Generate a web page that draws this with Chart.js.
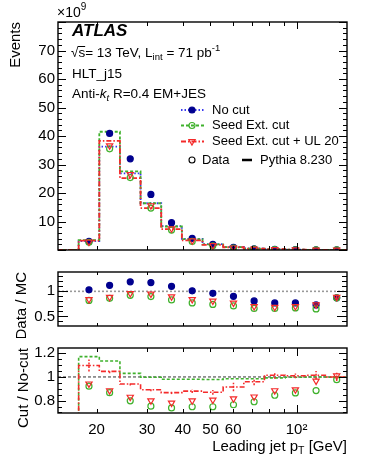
<!DOCTYPE html>
<html>
<head>
<meta charset="utf-8">
<script src="https://cdn.jsdelivr.net/npm/chart.js@4.4.1/dist/chart.umd.min.js"></script>
<style>
  html, body { margin: 0; padding: 0; background: #fff; }
  body { width: 366px; height: 474px; position: relative; overflow: hidden; }
  canvas { position: absolute; left: 0; }
</style>
</head>
<body>
<canvas id="mainPad" width="366" height="262" style="top:0px"></canvas>
<canvas id="ratioPad" width="366" height="78" style="top:260px"></canvas>
<canvas id="cutPad" width="366" height="138" style="top:336px"></canvas>
<script>
// leading jet pT bin edges [GeV]
const binEdges = [14.66, 17.31, 20.44, 24.13, 28.49, 33.64, 39.72, 46.90, 55.37, 65.38, 77.19, 91.14, 107.6, 127.1, 150];

// events per bin (x1e9), Pythia histograms
const mcNoCut  = [0, 3.1, 36.3, 26.9, 16.4, 8.4, 3.9, 2.05, 1.05, 0.52, 0.26, 0.13, 0.065, 0.032];
const mcSeed   = [0, 3.5, 41.5, 27.6, 16.4, 8.25, 3.8, 2.0, 1.03, 0.51, 0.26, 0.13, 0.065, 0.032];
const mcSeedUL = [0, 3.3, 38.3, 25.2, 14.7, 7.3, 3.4, 1.78, 0.96, 0.5, 0.26, 0.13, 0.066, 0.032];

// events per bin (x1e9), data
const dataNoCut  = [null, 3.0, 40.9, 32.0, 19.5, 9.6, 4.1, 2.0, 0.95, 0.42, 0.2, 0.1, 0.048, 0.028];
const dataSeed   = [null, 2.7, 35.5, 25.4, 14.7, 7.0, 3.0, 1.45, 0.7, 0.33, 0.17, 0.085, 0.042, 0.026];
const dataSeedUL = [null, 2.8, 36.6, 26.5, 15.6, 7.5, 3.3, 1.6, 0.78, 0.36, 0.18, 0.09, 0.046, 0.028];

// Data / MC
const dmNoCut  = [null, 1.03, 1.12, 1.19, 1.175, 1.10, 1.01, 0.96, 0.90, 0.81, 0.77, 0.77, 0.73, 0.87];
const dmSeed   = [null, 0.82, 0.86, 0.92, 0.895, 0.83, 0.77, 0.74, 0.71, 0.66, 0.66, 0.67, 0.65, 0.87];
const dmSeedUL = [null, 0.84, 0.885, 0.96, 0.95, 0.895, 0.84, 0.81, 0.77, 0.70, 0.685, 0.70, 0.735, 0.885];
const dmSeedULErr = [0, 0, 0, 0, 0, 0, 0, 0, 0, 0, 0, 0, 0.01, 0.045];

// Cut / No-cut (lines = MC, markers = data)
const crMcSeed     = [0, 1.172, 1.135, 1.03, 0.997, 0.98, 0.98, 0.978, 0.985, 0.985, 0.992, 0.997, 1.0, 0.997];
const crMcSeedUL   = [0, 1.097, 1.047, 0.94, 0.892, 0.867, 0.88, 0.87, 0.915, 0.96, 1.015, 1.01, 1.015, 1.0];
const crMcSeedULErr = [0, 0.05, 0.015, 0.012, 0.012, 0.012, 0.015, 0.02, 0.035, 0.03, 0.03, 0.02, 0.035, 0.035];
const crDataSeed   = [null, 0.922, 0.867, 0.798, 0.753, 0.738, 0.748, 0.748, 0.765, 0.79, 0.845, 0.865, 0.885, 0.977];
const crDataSeedUL = [null, 0.942, 0.885, 0.83, 0.80, 0.78, 0.80, 0.805, 0.817, 0.832, 0.885, 0.892, 0.967, 1.01];

// ticks
const xTicks = [20, 30, 40, 50, 60, 70, 80, 90, 100];
const xTickLabels = ['20', '30', '40', '50', '60', '', '', '', '10\u00b2'];
const eventTicks = Array.from({length: 41}, (_, i) => i * 2);
const eventLabels = ['10', '20', '30', '40', '50', '60', '70'];
const dmTicks = [0.4, 0.5, 0.6, 0.7, 0.8, 0.9, 1, 1.1, 1.2, 1.3];
const dmLabels = ['0.5', '1'];
const cutTicks = [0.7, 0.75, 0.8, 0.85, 0.9, 0.95, 1, 1.05, 1.1, 1.15, 1.2];
const cutLabels = ['0.8', '1', '1.2'];

const legendLabels = ['No cut', 'Seed Ext. cut', 'Seed Ext. cut + UL 20', 'Data', 'Pythia 8.230'];

// style
const FONT = "'Liberation Sans', Arial, Helvetica, sans-serif";
const blueLine = '#3838f0', blueMark = '#00008f';
const green = '#3fb12c', red = '#f42a2a';
const dashBlue = [1.5, 2], dashGreen = [3, 2], dashRed = [5, 2, 1.5, 2];

Chart.defaults.font.family = FONT;
Chart.defaults.color = '#000';

const xMin = binEdges[0], xMax = binEdges[binEdges.length - 1];
const binCenters = binEdges.slice(0, -1).map((e, i) => Math.sqrt(e * binEdges[i + 1]));
const toPts = vals => vals.map((v, i) => ({x: binCenters[i], y: v})).filter(p => p.y !== null);
// point i on the left edge of bin i; stepped:'before' holds it up to the next edge
const toHist = vals => binEdges.map((e, i) => ({x: e, y: vals[Math.min(i, vals.length - 1)]}));
const flat = v => [{x: xMin, y: v}, {x: xMax, y: v}];

function markerSet(vals, style, color, filled, r) {
  return {
    data: toPts(vals), showLine: false, pointStyle: style,
    pointRotation: style === 'triangle' ? 180 : 0, pointRadius: r,
    pointBorderColor: color, pointBackgroundColor: filled ? color : 'rgba(0,0,0,0)',
    pointBorderWidth: 1.2
  };
}
function histSet(vals, color, dash, w) {
  return {
    data: toHist(vals), stepped: 'before', borderColor: color, borderDash: dash,
    borderWidth: w, pointRadius: 0, fill: false
  };
}

function yAxis(min, max, ticks, labels, title, titlePad) {
  return {
    type: 'linear', min: min, max: max, bounds: 'data',
    afterFit: s => { s.width = 58; },
    afterBuildTicks: s => { s.ticks = ticks.map(v => ({value: v})); },
    grid: {display: false, drawTicks: false},
    border: {display: false},
    ticks: {
      autoSkip: false, padding: 3, font: {size: 15},
      callback: v => { const t = String(Math.round(v * 100) / 100); return labels.includes(t) ? t : ''; }
    },
    title: {display: true, text: title, align: 'end', font: {size: 15}, padding: {top: titlePad, bottom: 0}}
  };
}
function xAxisHidden() {
  return {type: 'logarithmic', min: xMin, max: xMax, bounds: 'data', display: false};
}

// frame, inward ticks and error bars, ROOT style
const padDecor = {
  id: 'padDecor',
  afterDatasetsDraw(chart, args, o) {
    const {ctx, chartArea: a, scales: {x, y}} = chart;
    ctx.save();
    ctx.beginPath(); ctx.rect(a.left, a.top, a.right - a.left, a.bottom - a.top); ctx.clip();
    chart.data.datasets.forEach(ds => {
      if (!ds.errs) return;
      ctx.strokeStyle = ds.errColor; ctx.lineWidth = 1.5; ctx.setLineDash(ds.errDash || []);
      ds.errs.forEach((e, i) => {
        const v = ds.errVals[i];
        if (v === null || !e) return;
        const px = x.getPixelForValue(binCenters[i]);
        ctx.beginPath();
        ctx.moveTo(px, y.getPixelForValue(v - e));
        ctx.lineTo(px, y.getPixelForValue(v + e));
        ctx.stroke();
      });
    });
    ctx.restore();

    ctx.save();
    ctx.strokeStyle = '#000'; ctx.lineWidth = 1; ctx.setLineDash([]);
    ctx.beginPath();
    o.yTicks.forEach(v => {
      const py = Math.round(y.getPixelForValue(v)) + 0.5;
      const t = String(Math.round(v * 100) / 100);
      const len = o.yMajor.includes(t) ? o.yLong : o.yShort;
      ctx.moveTo(a.left, py); ctx.lineTo(a.left + len, py);
      ctx.moveTo(a.right, py); ctx.lineTo(a.right - len, py);
    });
    xTicks.forEach(v => {
      const px = Math.round(x.getPixelForValue(v)) + 0.5;
      const len = v === 100 ? o.xLong : o.xShort;
      ctx.moveTo(px, a.bottom); ctx.lineTo(px, a.bottom - len);
      ctx.moveTo(px, a.top); ctx.lineTo(px, a.top + len);
    });
    ctx.stroke();
    ctx.lineWidth = 1.4;
    ctx.strokeRect(a.left, a.top, a.right - a.left, a.bottom - a.top);
    ctx.restore();
  }
};

// draws a run of text pieces: [text, size, dy, style]
function rich(ctx, x, y, parts) {
  let cx = x;
  const pos = [];
  parts.forEach(([t, size, dy, style]) => {
    ctx.font = (style || '') + ' ' + size + 'px ' + FONT;
    ctx.fillText(t, cx, y + (dy || 0));
    pos.push(cx);
    cx += ctx.measureText(t).width;
  });
  pos.push(cx);
  return pos;
}
function richWidth(ctx, parts) {
  let w = 0;
  parts.forEach(([t, size, dy, style]) => {
    ctx.font = (style || '') + ' ' + size + 'px ' + FONT;
    w += ctx.measureText(t).width;
  });
  return w;
}

const mainText = {
  id: 'mainText',
  afterDraw(chart) {
    const ctx = chart.ctx;
    const P = Chart.helpers.drawPoint;
    ctx.save();
    ctx.fillStyle = '#000'; ctx.textBaseline = 'middle'; ctx.textAlign = 'left';
    rich(ctx, 57, 13, [['\u00d710', 14], ['9', 10, -6]]);
    rich(ctx, 72, 31, [['ATLAS', 17, 0, 'italic bold']]);
    const p = rich(ctx, 71, 53, [['\u221a', 13.5], ['s', 13.5], ['= 13 TeV, L', 13.5], ['int', 9.5, 4], [' = 71 pb', 13.5], ['-1', 9.5, -5]]);
    ctx.strokeStyle = '#000'; ctx.lineWidth = 1;
    ctx.beginPath(); ctx.moveTo(p[1] - 0.5, 46.5); ctx.lineTo(p[2], 46.5); ctx.stroke();
    rich(ctx, 72, 74, [['HLT_j15', 13.5]]);
    rich(ctx, 72, 94, [['Anti-', 13.5], ['k', 13.5, 0, 'italic'], ['t', 9.5, 4, 'italic'], [' R=0.4 EM+JES', 13.5]]);

    // legend
    const rows = [
      {y: 110, color: blueLine, dash: dashBlue, mc: blueMark, style: 'circle', fill: true},
      {y: 125.5, color: green, dash: dashGreen, mc: green, style: 'circle', fill: false},
      {y: 141.5, color: red, dash: dashRed, mc: red, style: 'triangle', fill: false}
    ];
    rows.forEach((r, i) => {
      ctx.strokeStyle = r.color; ctx.lineWidth = 2; ctx.setLineDash(r.dash);
      ctx.beginPath(); ctx.moveTo(181, r.y); ctx.lineTo(204, r.y); ctx.stroke();
      ctx.setLineDash([]);
      ctx.strokeStyle = r.mc; ctx.fillStyle = r.fill ? r.mc : 'rgba(0,0,0,0)'; ctx.lineWidth = 1.2;
      P(ctx, {pointStyle: r.style, radius: r.style === 'triangle' ? 3.6 : 3, rotation: r.style === 'triangle' ? 180 : 0, borderWidth: 1.2}, 192, r.y);
      ctx.fillStyle = '#000';
      rich(ctx, 212, r.y, [[legendLabels[i], 13]]);
    });
    ctx.strokeStyle = '#000'; ctx.fillStyle = 'rgba(0,0,0,0)'; ctx.lineWidth = 1.1;
    P(ctx, {pointStyle: 'circle', radius: 3, rotation: 0, borderWidth: 1.1}, 192, 160);
    ctx.lineWidth = 2.5;
    ctx.beginPath(); ctx.moveTo(242, 160); ctx.lineTo(252, 160); ctx.stroke();
    ctx.fillStyle = '#000';
    rich(ctx, 202, 160, [[legendLabels[3], 13]]);
    rich(ctx, 260, 160, [[legendLabels[4], 13]]);
    ctx.restore();
  }
};

const xTitle = {
  id: 'xTitle',
  afterDraw(chart) {
    const ctx = chart.ctx;
    const parts = [['Leading jet p', 15], ['T', 10.5, 4], [' [GeV]', 15]];
    ctx.save();
    ctx.fillStyle = '#000'; ctx.textBaseline = 'middle'; ctx.textAlign = 'left';
    const w = richWidth(ctx, parts);
    rich(ctx, 347 - w, 111, parts);
    ctx.restore();
  }
};

const common = {
  responsive: false, animation: false, devicePixelRatio: 1, events: [],
  plugins: {legend: {display: false}, tooltip: {enabled: false}}
};

// main pad
new Chart(document.getElementById('mainPad'), {
  type: 'line',
  data: {
    datasets: [
      markerSet(dataSeedUL, 'triangle', red, false, 3.6),
      markerSet(dataSeed, 'circle', green, false, 3),
      markerSet(dataNoCut, 'circle', blueMark, true, 3),
      histSet(mcSeedUL, red, dashRed, 1.8),
      histSet(mcSeed, green, dashGreen, 1.8),
      histSet(mcNoCut, blueLine, dashBlue, 1.8)
    ]
  },
  options: {
    ...common,
    layout: {padding: {left: 0, right: 19, top: 22, bottom: 4.5}},
    scales: {x: xAxisHidden(), y: yAxis(0, 80, eventTicks, eventLabels, 'Events', 7)},
    plugins: {...common.plugins,
      padDecor: {yTicks: eventTicks, yMajor: ['0', ...eventLabels, '80'], yLong: 8, yShort: 4, xLong: 7, xShort: 4}}
  },
  plugins: [padDecor, mainText]
});

// Data / MC pad
const dmULSet = markerSet(dmSeedUL, 'triangle', red, false, 3.6);
dmULSet.errs = dmSeedULErr; dmULSet.errVals = dmSeedUL; dmULSet.errColor = red;
new Chart(document.getElementById('ratioPad'), {
  type: 'line',
  data: {
    datasets: [
      dmULSet,
      markerSet(dmSeed, 'circle', green, false, 3),
      markerSet(dmNoCut, 'circle', blueMark, true, 3),
      {data: flat(1), borderColor: '#999', borderDash: [2, 2], borderWidth: 1.6, pointRadius: 0}
    ]
  },
  options: {
    ...common,
    layout: {padding: {left: 0, right: 19, top: 3.3, bottom: 3.5}},
    scales: {x: xAxisHidden(), y: yAxis(0.31, 1.385, dmTicks, dmLabels, 'Data / MC', 13)},
    plugins: {...common.plugins,
      padDecor: {yTicks: dmTicks, yMajor: dmLabels, yLong: 10, yShort: 5, xLong: 5, xShort: 3}}
  },
  plugins: [padDecor]
});

// Cut / No-cut pad
const crULSet = histSet(crMcSeedUL, red, dashRed, 1.6);
crULSet.errs = crMcSeedULErr; crULSet.errVals = crMcSeedUL; crULSet.errColor = red; crULSet.errDash = [2, 1.5];
new Chart(document.getElementById('cutPad'), {
  type: 'line',
  data: {
    datasets: [
      markerSet(crDataSeedUL, 'triangle', red, false, 3.6),
      markerSet(crDataSeed, 'circle', green, false, 3),
      crULSet,
      histSet(crMcSeed, green, dashGreen, 1.6),
      {data: flat(1), borderColor: '#333', borderDash: [3, 2], borderWidth: 1, pointRadius: 0}
    ]
  },
  options: {
    ...common,
    layout: {padding: {left: 0, right: 19, top: 3, bottom: 0}},
    scales: {
      x: {
        type: 'logarithmic', min: xMin, max: xMax, bounds: 'data',
        afterBuildTicks: s => { s.ticks = xTicks.map(v => ({value: v})); },
        afterFit: s => { s.height = 61; },
        grid: {display: false, drawTicks: false},
        border: {display: false},
        ticks: {autoSkip: false, maxRotation: 0, padding: 8, font: {size: 15},
          callback: (v, i) => xTickLabels[i]}
      },
      y: yAxis(0.695, 1.245, cutTicks, cutLabels, 'Cut / No-cut', 15)
    },
    plugins: {...common.plugins,
      padDecor: {yTicks: cutTicks, yMajor: cutLabels, yLong: 8, yShort: 4, xLong: 8, xShort: 4}}
  },
  plugins: [padDecor, xTitle]
});
</script>
</body>
</html>
